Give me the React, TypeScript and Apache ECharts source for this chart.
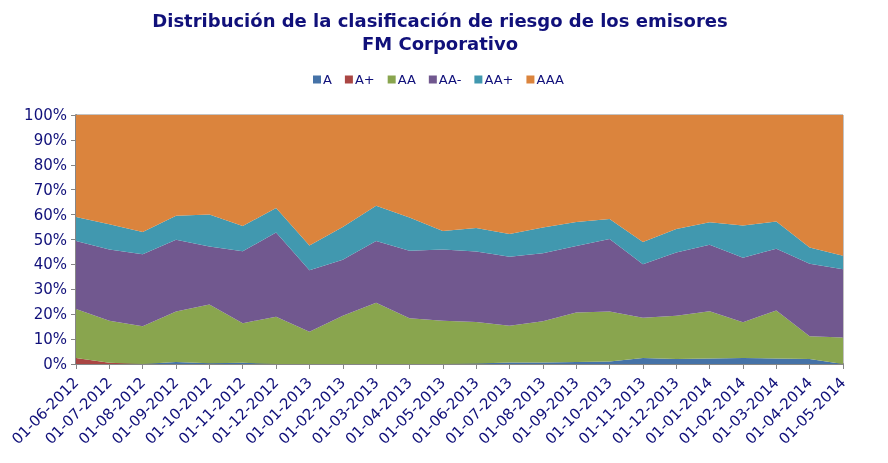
import React, { useEffect, useRef } from "react";
import * as echarts from "echarts";

const categories = [
  "01-06-2012", "01-07-2012", "01-08-2012", "01-09-2012", "01-10-2012", "01-11-2012",
  "01-12-2012", "01-01-2013", "01-02-2013", "01-03-2013", "01-04-2013", "01-05-2013",
  "01-06-2013", "01-07-2013", "01-08-2013", "01-09-2013", "01-10-2013", "01-11-2013",
  "01-12-2013", "01-01-2014", "01-02-2014", "01-03-2014", "01-04-2014", "01-05-2014",
];

const seriesNames = ["A", "A+", "AA", "AA-", "AA+", "AAA"];

const valuesA = [0, 0, 0, 0.8, 0.3, 0.5, 0, 0, 0, 0, 0, 0, 0.2, 0.6, 0.6, 0.8, 1.0, 2.4, 2.0, 2.2, 2.4, 2.2, 2.0, 0];
const valuesAplus = [2.4, 0.5, 0, 0, 0, 0, 0, 0, 0, 0, 0, 0, 0, 0, 0, 0, 0, 0, 0, 0, 0, 0, 0, 0];
const valuesAA = [19.7, 16.9, 15.2, 20.3, 23.6, 15.9, 19.0, 13.0, 19.4, 24.6, 18.4, 17.4, 16.7, 14.8, 16.6, 19.9, 20.1, 16.2, 17.4, 19.0, 14.4, 19.3, 9.1, 10.6];
const valuesAAminus = [27.3, 28.6, 28.9, 28.8, 23.3, 28.9, 33.8, 24.7, 22.5, 24.8, 27.1, 28.6, 28.3, 27.7, 27.3, 26.7, 29.1, 21.5, 25.4, 26.7, 25.9, 24.8, 29.2, 27.5];
const valuesAAplus = [9.6, 10.1, 8.9, 9.6, 12.8, 10.1, 9.9, 9.9, 13.1, 14.2, 13.3, 7.4, 9.4, 9.1, 10.3, 9.6, 8.0, 8.9, 9.4, 9.0, 12.9, 10.9, 6.5, 5.4];
const valuesAAA = [41.0, 43.9, 47.0, 40.5, 40.0, 44.6, 37.3, 52.4, 45.0, 36.4, 41.2, 46.6, 45.4, 47.8, 45.2, 43.0, 41.8, 51.0, 45.8, 43.1, 44.4, 42.8, 53.2, 56.5];

const colors = ["#4572A7", "#AA4643", "#89A54E", "#71588F", "#4198AF", "#DB843D"];

const seriesValues = [valuesA, valuesAplus, valuesAA, valuesAAminus, valuesAAplus, valuesAAA];

export default function App() {
  const ref = useRef<HTMLDivElement>(null);

  useEffect(() => {
    if (!ref.current) return;
    const chart = echarts.init(ref.current, null, { renderer: "svg" });
    const navy = "#10107a";
    chart.setOption({
      animation: false,
      color: colors,
      textStyle: { fontFamily: "DejaVu Sans" },
      title: {
        text: "Distribución de la clasificación de riesgo de los emisores\nFM Corporativo",
        left: 435,
        textAlign: "center",
        top: 4,
        textStyle: {
          fontFamily: "DejaVu Sans",
          fontWeight: "bold",
          fontSize: 18,
          color: navy,
          lineHeight: 23,
        },
      },
      legend: {
        data: seriesNames,
        top: 68,
        left: 308,
        icon: "rect",
        itemWidth: 8,
        itemHeight: 8,
        itemGap: 13,
        textStyle: { fontSize: 13, color: navy, padding: [0, 0, 0, -3] },
      },
      grid: {
        left: 76,
        right: 45,
        top: 115,
        bottom: 99,
        show: true,
        borderColor: "#868686",
        borderWidth: 1,
      },
      xAxis: {
        type: "category",
        data: categories,
        boundaryGap: false,
        axisLine: { lineStyle: { color: "#868686", width: 2 } },
        axisTick: { show: true, length: 5, lineStyle: { color: "#868686" } },
        axisLabel: {
          rotate: 45,
          fontSize: 15,
          color: navy,
          interval: 0,
          margin: 16,
        },
      },
      yAxis: {
        type: "value",
        min: 0,
        max: 100,
        interval: 10,
        axisLine: { show: true, lineStyle: { color: "#868686", width: 2 } },
        axisTick: { show: true, length: 5, lineStyle: { color: "#868686" } },
        splitLine: { show: false },
        axisLabel: {
          formatter: "{value}%",
          fontSize: 15,
          color: navy,
          margin: 9,
        },
      },
      series: seriesNames.map((name, i) => ({
        name,
        type: "line",
        stack: "total",
        data: seriesValues[i],
        symbol: "none",
        lineStyle: { width: 0 },
        areaStyle: { color: colors[i], opacity: 1 },
      })),
    });
    return () => chart.dispose();
  }, []);

  return (
    <div
      ref={ref}
      style={{ position: "fixed", left: 0, top: 0, width: 888, height: 463 }}
    />
  );
}
